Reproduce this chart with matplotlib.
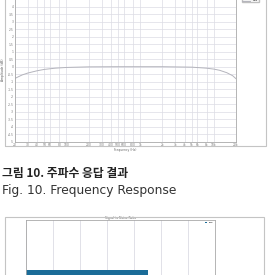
import matplotlib
matplotlib.use("Agg")
import matplotlib.pyplot as plt
from matplotlib.patches import Rectangle

# frequency response
freqs = [20, 25, 30, 40, 50, 70, 100, 200, 500, 1000, 2000, 5000, 8000, 10000, 12000, 15000, 18000, 20000]
gain_db = [-0.78, -0.55, -0.42, -0.27, -0.18, -0.1, -0.05, -0.01, 0.0, 0.0, 0.0, -0.03, -0.1, -0.16, -0.24, -0.4, -0.6, -0.8]
freq_ticks = [20, 30, 40, 50, 60, 80, 100, 200, 300, 400, 500, 600, 800, 1000,
              2000, 3000, 4000, 5000, 6000, 8000, 10000, 20000]
freq_labels = ["20", "30", "40", "50", "60", "80", "100", "200", "300", "400", "500", "600", "800", "1k",
               "2k", "3k", "4k", "5k", "6k", "8k", "10k", "20k"]
db_ticks = [-5, -4.5, -4, -3.5, -3, -2.5, -2, -1.5, -1, -0.5, 0, 0.5, 1, 1.5, 2, 2.5, 3, 3.5, 4]

# signal to noise ratio
snr_names = ["SNR"]
snr_values = [90]
snr_ticks = [0, 20, 40, 60, 80, 100, 120, 140]

W, H = 271, 275
fig = plt.figure(figsize=(W / 100, H / 100), dpi=100)
fig.patch.set_facecolor("white")


def box(x0, y0, x1, y1):
    # pixel coords, y from top
    return [x0 / W, 1 - y1 / H, (x1 - x0) / W, (y1 - y0) / H]


grid_c = "#dcdce4"
tick_fs = 2.2

# outer frame of first screenshot
fig.patches.append(Rectangle((5 / W, 1 - 146 / H), 261 / W, 160 / H, transform=fig.transFigure,
                             fill=False, edgecolor="#c4c4c4", linewidth=0.8))

ax = fig.add_axes(box(15, -2.3, 236, 141.7))
ax.plot(freqs, gain_db, color="#b4b4bc", linewidth=0.7, label="Gain")
ax.set_xscale("log")
ax.set_xlim(20, 20000)
ax.set_ylim(-5, 4.6)
ax.set_xticks(freq_ticks)
ax.set_xticklabels(freq_labels)
ax.xaxis.set_minor_locator(plt.NullLocator())
ax.set_yticks(db_ticks)
ax.set_yticklabels([f"{v:g}" for v in db_ticks])
ax.tick_params(labelsize=tick_fs, length=0, pad=0.8, colors="#777777")
ax.grid(True, color=grid_c, linewidth=0.5)
ax.axhline(4.5, color=grid_c, linewidth=0.5, zorder=0)
for s in ax.spines.values():
    s.set_color("#a8a8a8")
    s.set_linewidth(0.6)
ax.set_xlabel("Frequency (Hz)", fontsize=tick_fs, color="#666666", labelpad=0.5)
ax.set_ylabel("Amplitude (dB)", fontsize=tick_fs, color="#555555", labelpad=2)
ax.legend(loc="upper left", bbox_to_anchor=(1.02, 0.997), fontsize=1.6, frameon=True,
          fancybox=False, edgecolor="#b0b0b0", handlelength=3.5, borderpad=0.3,
          handletextpad=1.5)

# caption
fig.text(2 / W, 1 - 177 / H, "그림 10. 주파수 응답 결과", fontsize=8.5, color="#222222",
         family=["Noto Sans CJK KR", "DejaVu Sans"], weight="bold")
fig.text(2 / W, 1 - 194 / H, "Fig. 10. Frequency Response", fontsize=8.8, color="#333333",
         family=["DejaVu Sans"])

# outer frame of second screenshot
fig.patches.append(Rectangle((5 / W, -0.05), 259 / W, (H - 217) / H + 0.05, transform=fig.transFigure,
                             fill=False, edgecolor="#c4c4c4", linewidth=0.8))

ax2 = fig.add_axes(box(26, 220, 215, 320))
ax2.barh([0], snr_values, height=0.8, color="#1b6c98", label=snr_names[0])
ax2.set_xlim(snr_ticks[0], snr_ticks[-1])
ax2.set_ylim(-0.6, 1.4)
ax2.set_xticks(snr_ticks)
ax2.set_yticks([])
ax2.tick_params(labelbottom=False, length=0)
ax2.xaxis.grid(True, color=grid_c, linewidth=0.6)
ax2.set_axisbelow(True)
for s in ax2.spines.values():
    s.set_color("#a8a8a8")
    s.set_linewidth(0.6)
ax2.set_title("Signal to Noise Ratio", fontsize=tick_fs, color="#555555", pad=0.8)
ax2.legend(loc="upper right", fontsize=1.5, frameon=False, handlelength=1.2, handleheight=0.5,
           borderpad=0.3)

fig.savefig("out.png", dpi=100)
